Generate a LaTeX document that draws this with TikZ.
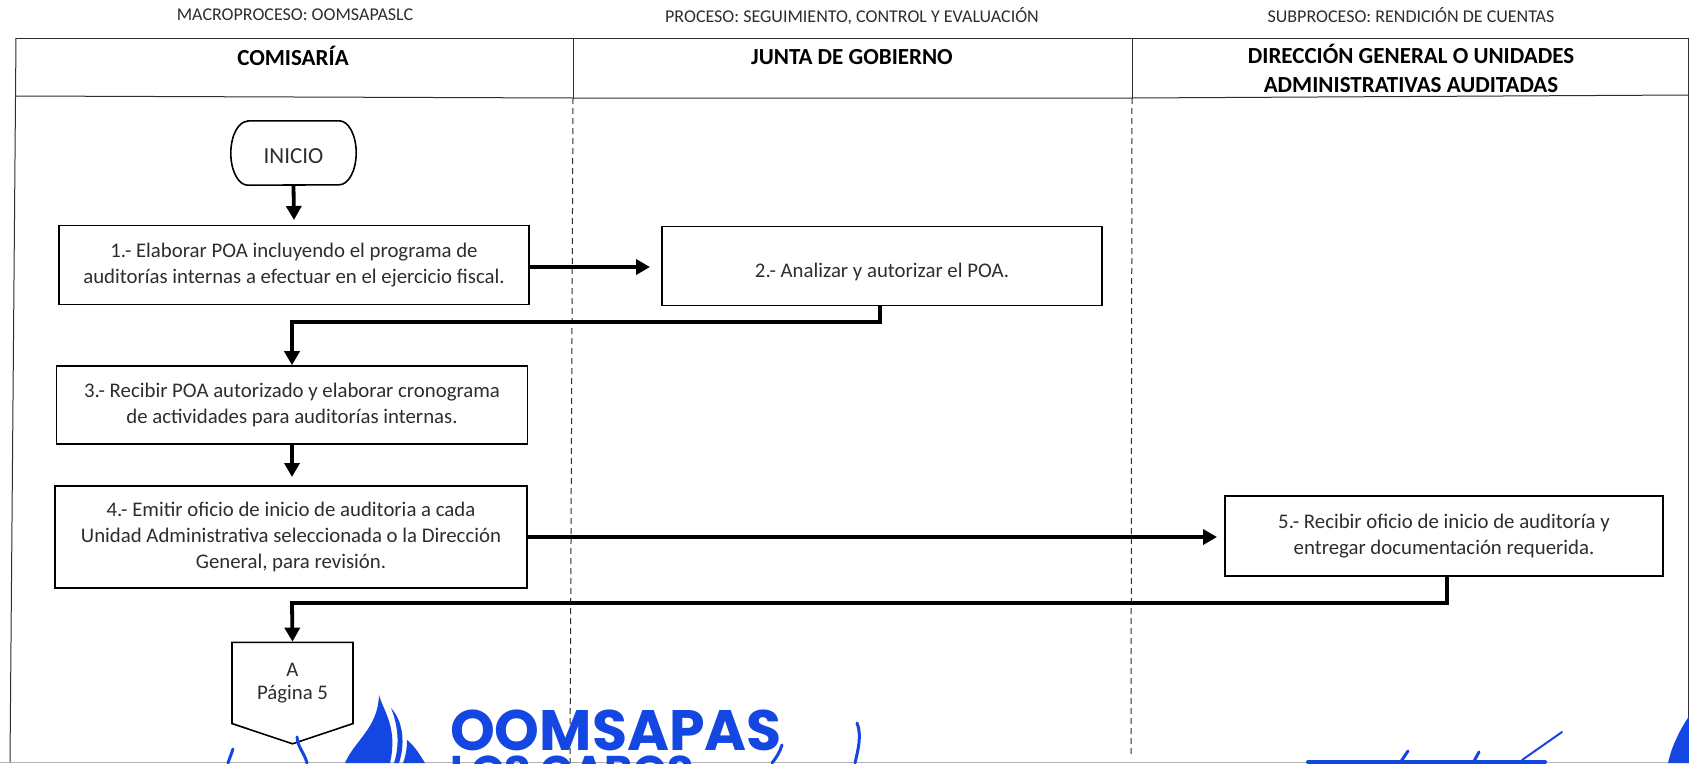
\documentclass[tikz,border=0pt]{standalone}
\usepackage{fontspec}
\setmainfont{Carlito}
\newfontfamily\logofont{Poppins}
\usetikzlibrary{shapes,calc,positioning,arrows.meta}
\definecolor{logoblue}{RGB}{20,70,225}
\definecolor{inkgray}{RGB}{45,45,45}

\begin{document}
\begin{tikzpicture}[x=1pt,y=-1pt,
                every node/.append style={font=\fontsize{20.8}{26}\selectfont,text=inkgray,align=center,inner sep=0pt},
                toplabel/.style={font=\fontsize{18}{22}\selectfont},
                lanehead/.style={font=\fontsize{23}{29}\selectfont\bfseries,text=black},
                procbox/.style={draw=black,line width=1.6pt,rectangle,execute at begin node=\rule{0pt}{27pt}},
                startbox/.style={rectangle,font=\fontsize{23}{26}\selectfont,minimum width=125pt,minimum height=64pt,execute at begin node=\rule{0pt}{21pt}},
                pagebox/.style={draw=black,line width=1.6pt,signal,signal to=south,signal pointer angle=143,minimum width=121pt,minimum height=93pt},
                flow/.style={line width=3.8pt,-{Triangle[length=14pt,width=15pt]}},
                lanegap/.style={line width=1pt,dash pattern=on 6pt off 4pt,draw=inkgray},
                frameline/.style={line width=1pt,draw=inkgray},
                pen/.style={draw=logoblue,line cap=round,line width=3pt}]
\useasboundingbox (0,0) rectangle (1689,763);
% page labels
\node[toplabel] (macro) at (295,15) {MACROPROCESO: OOMSAPASLC};
\node[toplabel] (proc) at (852,16) {PROCESO: SEGUIMIENTO, CONTROL Y EVALUACIÓN};
\node[toplabel] (subproc) at (1411,15) {SUBPROCESO: RENDICIÓN DE CUENTAS};
% frame
\draw[frameline] (16,38) -- (1688,38);
\draw[frameline] (16,96) -- (573,98) -- (1132,98) -- (1688,95);
\draw[frameline] (16,38) -- (10,763);
\draw[frameline] (1688,38) -- (1688,763);
\draw[frameline] (573,38) -- (573,98);
\draw[frameline] (1132,38) -- (1132,98);
\draw[line width=.6pt,draw=black!30] (0,762.5) -- (1689,762.5);
\node[lanehead] (comisaria) at (293,56) {COMISARÍA};
\node[lanehead] (junta) at (852,57) {JUNTA DE GOBIERNO};
\node[lanehead] (direccion) at (1411,68) {DIRECCIÓN GENERAL O UNIDADES\\ADMINISTRATIVAS AUDITADAS};
% lanes
\coordinate (gapa top) at (573,98);
\coordinate (gapa end) at (570,763);
\coordinate (gapb top) at (1132,98);
\coordinate (gapb end) at (1131,758);
\begin{scope}[lanegap]
\draw (gapa top) -- (gapa end);
\draw (gapb top) -- (gapb end);
\end{scope}
% steps
\node[startbox] (inicio) at (293.5,153) {INICIO};
\draw[line width=1.6pt] ($(inicio.north west)+(17,0)$) -- ($(inicio.north east)+(-17,0)$)
    arc[start angle=90,end angle=-90,x radius=17pt,y radius=32pt]
    -- ($(inicio.south west)+(17,0)$)
    arc[start angle=270,end angle=90,x radius=17pt,y radius=32pt] -- cycle;
\node[procbox,minimum width=470pt,minimum height=79pt] (uno) at (294,265) {1.- Elaborar POA incluyendo el programa de\\auditorías internas a efectuar en el ejercicio fiscal.};
\node[procbox,minimum width=440pt,minimum height=79pt] (dos) at (882,266) {2.- Analizar y autorizar el POA.};
\node[procbox,minimum width=471pt,minimum height=78pt] (tres) at (292,405) {3.- Recibir POA autorizado y elaborar cronograma\\de actividades para auditorías internas.};
\node[procbox,minimum width=472pt,minimum height=102pt] (cuatro) at (291,537) {4.- Emitir oficio de inicio de auditoria a cada\\Unidad Administrativa seleccionada o la Dirección\\General, para revisión.};
\node[procbox,minimum width=438pt,minimum height=80pt] (cinco) at (1444,536) {5.- Recibir oficio de inicio de auditoría y\\entregar documentación requerida.};
\node[pagebox] (pagina) at (292.5,683) {A\\[-3pt]Página 5};
% connectors
\coordinate (turna) at (880,322);
\coordinate (turnb) at (292,322);
\coordinate (turnc) at (1447,603);
\coordinate (turnd) at (292,603);
\coordinate (tipuno) at (294,220);
\coordinate (tiptres) at (292,477);
\coordinate (tipdos) at (650,267);
\coordinate (tipcinco) at (1217,537);
\draw[flow] (inicio.south) -- (tipuno);
\draw[flow] (uno.east |- tipdos) -- (tipdos);
\draw[flow] (dos.south -| turna) -- (turna) -- (turnb) -- (tres.north);
\draw[flow] (tres.south) -- (tiptres);
\draw[flow] (cuatro.east |- tipcinco) -- (tipcinco);
\draw[flow] (cinco.south -| turnc) -- (turnc) -- (turnd) -- (pagina.north);
% logo and signatures
\begin{scope}
\clip (0,0) rectangle (1689,763);
\node[font=\logofont\bfseries\fontsize{57}{57}\selectfont,text=logoblue] (logo) at (616,730) {OOMSAPAS};
\node[font=\logofont\bfseries\fontsize{43}{43}\selectfont,text=logoblue,anchor=north] (loscabos) at (572,756) {LOS CABOS};
\fill[logoblue] (379,695) .. controls (384,712) and (398,728) .. (390,763) -- (345,763) .. controls (355,740) and (378,728) .. (379,695) -- cycle;
\fill[logoblue] (391,708) .. controls (404,722) and (405,745) .. (399,763) -- (394,763) .. controls (400,745) and (398,725) .. (391,708) -- cycle;
\fill[logoblue] (407,740) .. controls (414,745) and (420,755) .. (425,763) -- (403,763) .. controls (406,755) and (407,748) .. (407,740) -- cycle;
\fill[logoblue] (1689,716) .. controls (1680,730) and (1672,745) .. (1668,763) -- (1689,763) -- cycle;
\draw[pen,line width=4pt] (1308,762) -- (1545,762);
\draw[pen] (1408,751) -- (1400,763);
\draw[pen] (1479,752) -- (1473,763);
\draw[pen,line width=2pt] (1562,732) -- (1522,760);
\draw[pen] (857,723) .. controls (862,735) and (858,750) .. (855,763);
\draw[pen] (782,745) .. controls (780,752) and (776,758) .. (772,763);
\draw[pen] (233,749) -- (228,763);
\draw[pen] (297,737) .. controls (298,748) and (304,752) .. (307,763);
\end{scope}
\end{tikzpicture}
\end{document}
